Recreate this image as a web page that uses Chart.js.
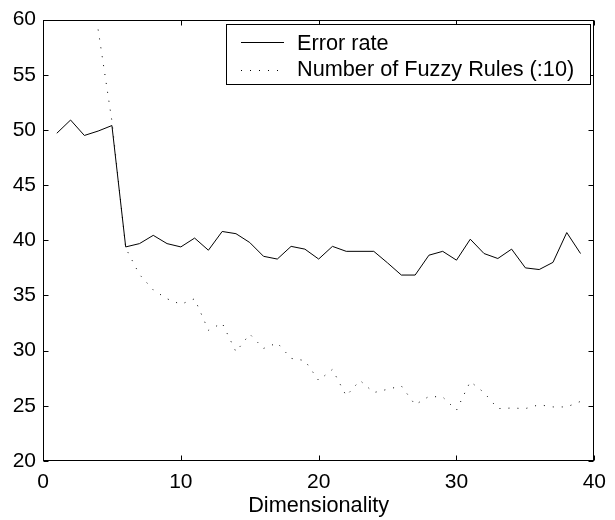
<!DOCTYPE html>
<html>
<head>
<meta charset="utf-8">
<script src="https://cdn.jsdelivr.net/npm/chart.js@4"></script>
<style>
  html, body { margin: 0; padding: 0; background: #fff; }
  #wrap { width: 615px; height: 520px; }
</style>
</head>
<body>
<div id="wrap"><canvas id="lineChart" width="615" height="520"></canvas></div>
<script>
// data
const dims = [1, 2, 3, 4, 5, 6, 7, 8, 9, 10, 11, 12, 13, 14, 15, 16, 17, 18, 19, 20,
              21, 22, 23, 24, 25, 26, 27, 28, 29, 30, 31, 32, 33, 34, 35, 36, 37, 38, 39];
const errorRate = [49.7, 50.9, 49.5, 49.9, 50.4, 39.4, 39.7, 40.45, 39.7, 39.4,
                   40.2, 39.1, 40.8, 40.6, 39.8, 38.55, 38.3, 39.45, 39.2, 38.3,
                   39.45, 39.0, 39.0, 39.0, 37.95, 36.85, 36.85, 38.65, 39.0, 38.2,
                   40.1, 38.8, 38.35, 39.2, 37.5, 37.35, 38.0, 40.7, 38.8];
const fuzzyRules = [null, null, null, 59.1, 50.8, 39.3, 36.9, 35.5, 34.7, 34.2,
                    34.7, 31.85, 32.5, 29.9, 31.5, 30.2, 30.7, 29.3, 29.1, 27.3,
                    28.3, 25.9, 27.3, 26.2, 26.5, 26.8, 25.1, 25.85, 25.8, 24.6,
                    27.2, 26.2, 24.75, 24.8, 24.75, 25.1, 24.9, 24.9, 25.4];
const seriesNames = ['Error rate', 'Number of Fuzzy Rules (:10)'];
const xTicks = [0, 10, 20, 30, 40];
const yTicks = [20, 25, 30, 35, 40, 45, 50, 55, 60];

const FONT = 'Liberation Sans, Arial, Helvetica, sans-serif';

//points for the linear x scale
const toPoints = vals => dims.map((d, i) => ({ x: d, y: vals[i] }));

//box, inward ticks on all four sides and the boxed legend
const matlabFrame = {
    id: 'matlabFrame',
    afterDraw(chart) {
        const ctx = chart.ctx;
        const a = chart.chartArea;
        const xs = chart.scales.x, ys = chart.scales.y;
        const L = Math.round(a.left) + 0.5, R = Math.round(a.right) - 0.5;
        const T = Math.round(a.top) + 0.5, B = Math.round(a.bottom) - 0.5;
        ctx.save();
        ctx.strokeStyle = '#000';
        ctx.lineWidth = 1;
        ctx.strokeRect(L, T, R - L, B - T);
        ctx.beginPath();
        xTicks.forEach(v => {
            const px = Math.round(xs.getPixelForValue(v)) + 0.5;
            ctx.moveTo(px, B); ctx.lineTo(px, B - 5);
            ctx.moveTo(px, T); ctx.lineTo(px, T + 5);
        });
        yTicks.forEach(v => {
            const py = Math.round(ys.getPixelForValue(v)) + 0.5;
            ctx.moveTo(L, py); ctx.lineTo(L + 5, py);
            ctx.moveTo(R, py); ctx.lineTo(R - 5, py);
        });
        ctx.stroke();

        //legend
        const bx = 226.5, by = 24.5, bw = 364, bh = 60;
        ctx.fillStyle = '#fff';
        ctx.fillRect(bx, by, bw, bh);
        ctx.strokeRect(bx, by, bw, bh);
        ctx.font = '21.7px ' + FONT;
        ctx.fillStyle = '#000';
        ctx.textBaseline = 'alphabetic';
        ctx.textAlign = 'left';
        const rows = [42.5, 70.5];
        const bases = [49.5, 75.5];
        chart.data.datasets.forEach((ds, i) => {
            ctx.setLineDash(ds.borderDash || []);
            ctx.beginPath();
            ctx.moveTo(241, rows[i]);
            ctx.lineTo(284, rows[i]);
            ctx.stroke();
            ctx.setLineDash([]);
            ctx.fillText(ds.label, 297, bases[i]);
        });
        ctx.restore();
    }
};

const ctx = document.getElementById('lineChart').getContext('2d');
const lineChart = new Chart(ctx, {
    type: 'line',
    data: {
        datasets: [{
            label: seriesNames[0],
            data: toPoints(errorRate),
            borderColor: '#000',
            borderWidth: 1,
            pointRadius: 0,
            tension: 0,
            fill: false
        }, {
            label: seriesNames[1],
            data: toPoints(fuzzyRules),
            borderColor: '#000',
            borderWidth: 1,
            borderDash: [1, 8],
            pointRadius: 0,
            tension: 0,
            fill: false,
            spanGaps: false
        }]
    },
    options: {
        responsive: false,
        animation: false,
        devicePixelRatio: 1,
        layout: {
            padding: { top: 13, right: 13, bottom: 0, left: 0 }
        },
        plugins: {
            legend: { display: false },
            tooltip: { enabled: false }
        },
        scales: {
            x: {
                type: 'linear',
                min: 0,
                max: 40,
                afterBuildTicks: s => { s.ticks = xTicks.map(v => ({ value: v })); },
                afterFit: s => { s.height = 59; },
                grid: { display: false, drawTicks: false },
                border: { display: false },
                ticks: {
                    padding: 9,
                    color: '#000',
                    maxRotation: 0,
                    font: { family: FONT, size: 21 }
                },
                title: {
                    display: true,
                    text: 'Dimensionality',
                    color: '#000',
                    padding: { top: 0, bottom: 1 },
                    font: { family: FONT, size: 21.7 }
                }
            },
            y: {
                min: 20,
                max: 60,
                afterBuildTicks: s => { s.ticks = yTicks.map(v => ({ value: v })); },
                afterFit: s => { s.width = 43; },
                grid: { display: false, drawTicks: false },
                border: { display: false },
                ticks: {
                    padding: 7,
                    color: '#000',
                    font: { family: FONT, size: 21 }
                }
            }
        }
    },
    plugins: [matlabFrame]
});
</script>
</body>
</html>
